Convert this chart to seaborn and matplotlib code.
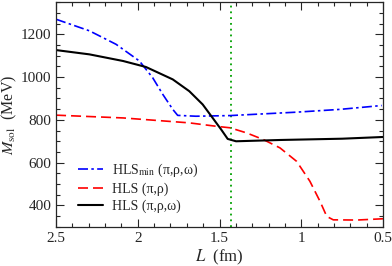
import pandas as pd
import matplotlib
matplotlib.use("Agg")
import matplotlib.pyplot as plt
import seaborn as sns

# HLS_min (pi, rho, omega)
L_min = [2.5, 2.296, 2.133, 1.99, 1.909, 1.847, 1.786, 1.756, 1.644, 1.436, 1.028, 0.763, 0.508]
M_min = [1270, 1216, 1153, 1075, 997, 919, 849, 821, 817, 820, 836, 849, 867]

# HLS (pi, rho)
L_pr = [2.5, 2.09, 1.685, 1.52, 1.436, 1.334, 1.232, 1.13, 1.028, 0.947, 0.885, 0.844, 0.804, 0.66, 0.5]
M_pr = [822, 809, 786, 770, 763, 739, 708, 669, 606, 513, 419, 349, 333, 332, 338]

# HLS (pi, rho, omega)
L_full = [2.5, 2.296, 2.09, 1.95, 1.786, 1.685, 1.603, 1.542, 1.49, 1.45, 1.399, 1.13, 0.75, 0.5]
M_full = [1126, 1106, 1075, 1047, 989, 934, 872, 809, 755, 711, 700, 706, 712, 720]

L_crit = 1.43

sns.set_style("ticks")
plt.rcParams["font.family"] = ["Liberation Serif", "DejaVu Serif"]
plt.rcParams["mathtext.fontset"] = "stix"

fig = plt.figure(figsize=(3.92, 2.66), dpi=100)
ax = fig.add_axes([0.143, 0.147, 0.834, 0.845])

ax.axvline(L_crit, color="#00a000", linestyle=(0, (1, 2.2)), linewidth=1.3, zorder=1)

sns.lineplot(x=L_min, y=M_min, ax=ax, color="blue", linewidth=1.2, sort=False,
             linestyle=(0, (6, 2, 1.5, 2)), label=r"HLS$_{\rm min}$ (π,ρ,ω)")
sns.lineplot(x=L_pr, y=M_pr, ax=ax, color="red", linewidth=1.2, sort=False,
             linestyle=(0, (6, 3)), label="HLS (π,ρ)")
sns.lineplot(x=L_full, y=M_full, ax=ax, color="black", linewidth=1.5, sort=False,
             label="HLS (π,ρ,ω)")

ax.set_xlim(2.5, 0.5)
ax.set_ylim(300, 1350)
ax.set_xticks([2.5, 2, 1.5, 1, 0.5])
ax.set_xticklabels(["2.5", "2", "1.5", "1", "0.5"])
ax.set_yticks([400, 600, 800, 1000, 1200])
ax.xaxis.set_minor_locator(matplotlib.ticker.MultipleLocator(0.1))
ax.yaxis.set_minor_locator(matplotlib.ticker.MultipleLocator(50))
ax.tick_params(which="both", direction="in", top=True, right=True, labelsize=11, width=0.8)
ax.tick_params(which="major", length=6)
ax.tick_params(which="minor", length=3)
for s in ax.spines.values():
    s.set_linewidth(0.9)

ax.set_xlabel(r"$L$  (fm)", fontsize=12, labelpad=2)
ax.set_ylabel(r"$M_{\rm sol}$  (MeV)", fontsize=11.5, labelpad=1)

ax.legend(loc="lower left", bbox_to_anchor=(0.06, 0.05), borderaxespad=0, borderpad=0.2,
          frameon=False, fontsize=10, handlelength=1.8, labelspacing=0.25, handletextpad=0.6)

fig.savefig("out.png", dpi=100)
